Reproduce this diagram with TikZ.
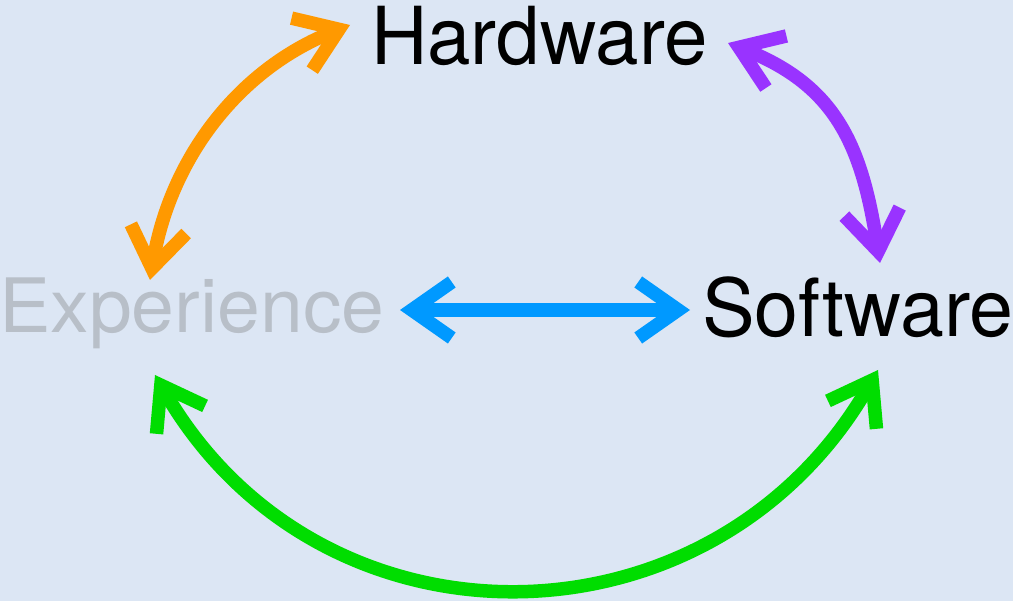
\documentclass[tikz,border=0pt]{standalone}
\usepackage{fontspec}
\setmainfont{TeX Gyre Heros}
\usetikzlibrary{arrows.meta}
\definecolor{bgc}{HTML}{DCE6F4}
\definecolor{cOrange}{HTML}{FF9900}
\definecolor{cPurple}{HTML}{9933FF}
\definecolor{cBlue}{HTML}{0099FF}
\definecolor{cGreen}{HTML}{00DD00}
\definecolor{cGray}{HTML}{B8BFC8}
\begin{document}
\begin{tikzpicture}[x=1pt,y=-1pt,
  conn/.style={line width=13.5pt,
    {Straight Barb[length=40pt,width=56pt]}-{Straight Barb[length=40pt,width=56pt]}},
  txt/.style={inner sep=0pt, anchor=base west}]
\fill[bgc] (0,0) rectangle (1013,601);
\useasboundingbox (0,0) rectangle (1013,601);

\node[txt] (hw) at (371,65) {\fontsize{80}{96}\selectfont\scalebox{0.976}[1]{Hardware}};
\node[txt] (sw) at (702,337) {\fontsize{80}{96}\selectfont\scalebox{0.987}[1]{Software}};
\node[txt, text=cGray] (ex) at (-1,333) {\fontsize{75}{90}\selectfont\scalebox{1.027}[1]{Experience}};

\coordinate (oA) at (150,280);
\coordinate (oB) at (350,25);
\coordinate (pA) at (728,43);
\coordinate (pB) at (880,263);
\coordinate (bA) at (400,310);
\coordinate (bB) at (690,310);
\coordinate (gA) at (155,375);
\coordinate (gB) at (878,370);

\draw[conn, cOrange] (oA) .. controls (170,160) and (237,70) .. (oB);
\draw[conn, cPurple] (pA) .. controls (837,86) and (862,147) .. (pB);
\draw[conn, cBlue] (bA) -- (bB);
\draw[conn, cGreen] (gA) .. controls (320,662) and (713,657) .. (gB);
\end{tikzpicture}
\end{document}
